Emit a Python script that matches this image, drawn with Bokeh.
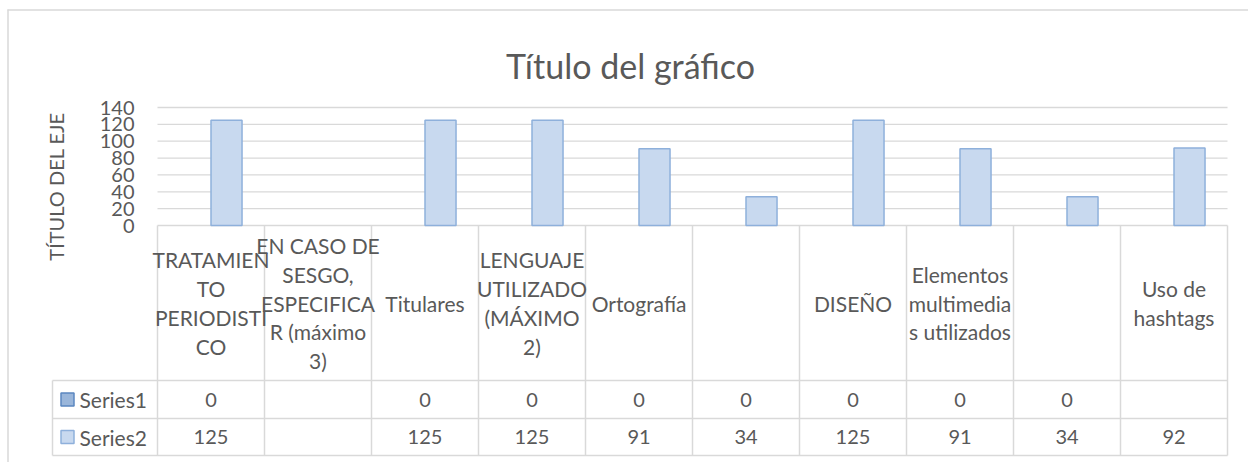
import math
from bokeh.plotting import figure
from bokeh.models import Range1d, FixedTicker, ColumnDataSource
from bokeh.embed import file_html
from bokeh.resources import INLINE
from bokeh.core.properties import value

nan = float("nan")

# ---------------- data ----------------
categories = [
    "TRATAMIEN\nTO\nPERIODISTI\nCO",
    "EN CASO DE\nSESGO,\nESPECIFICA\nR (máximo\n3)",
    "Titulares",
    "LENGUAJE\nUTILIZADO\n(MÁXIMO\n2)",
    "Ortografía",
    "",
    "DISEÑO",
    "Elementos\nmultimedia\ns utilizados",
    "",
    "Uso de\nhashtags",
]
series_names = ["Series1", "Series2"]
series1 = [0, nan, 0, 0, 0, 0, 0, 0, 0, nan]
series2 = [125, nan, 125, 125, 91, 34, 125, 91, 34, 92]
y_ticks = [0, 20, 40, 60, 80, 100, 120, 140]
chart_title = "Título del gráfico"
axis_title = "TÍTULO DEL EJE"

# ---------------- style ----------------
TXT = "#595959"
LINE = "#d9d9d9"
FONT = "Lato"
S1_FILL, S1_LINE = "#9ab6da", "#5b87c0"
S2_FILL, S2_LINE = "#c8d9ef", "#8eb0db"

N = len(categories)
COL_PX = 107.0               # width of one category column in px
PPU = 118.0 / 140.0          # pixels per value unit
PX0, PY0 = 157.0, 225.0      # screen position of (category 0, value 0)


def xd(px):  # screen x -> data x
    return (px - PX0) / COL_PX


def yd(py):  # screen y -> data y
    return (PY0 - py) / PPU


PAGE_L, PAGE_T, W, H = 0, 0, 1248, 462

p = figure(width=W, height=H,
           x_range=Range1d(xd(PAGE_L), xd(PAGE_L + W)),
           y_range=Range1d(yd(PAGE_T + H), yd(PAGE_T)),
           output_backend="svg", toolbar_location=None, x_axis_location=None,
           min_border_left=0, min_border_right=0, min_border_top=0, min_border_bottom=0)
p.outline_line_color = None
p.grid.visible = False

ax = p.yaxis[0]
ax.fixed_location = 0
ax.ticker = FixedTicker(ticks=y_ticks)
ax.axis_line_color = None
ax.major_tick_line_color = None
ax.minor_tick_line_color = None
ax.major_tick_out = 0
ax.major_tick_in = 0
ax.major_label_standoff = 23
ax.major_label_text_font = FONT
ax.major_label_text_font_size = "20px"
ax.major_label_text_color = TXT

# outer chart border (left and top)
p.segment(x0=[xd(7.5), xd(7)], x1=[xd(7.5), xd(PAGE_L + W)],
          y0=[yd(9), yd(9.5)], y1=[yd(PAGE_T + H), yd(9.5)],
          line_color=LINE, line_width=1.5)

# gridlines across the plot area
p.segment(x0=[0] * len(y_ticks), x1=[N] * len(y_ticks), y0=y_ticks, y1=y_ticks,
          line_color=LINE, line_width=1.3)

# bars
bw = 0.29
centers = [i + 0.5 for i in range(N)]
src = ColumnDataSource(dict(
    x1=[c - bw / 2 for c in centers], x2=[c + bw / 2 for c in centers],
    s1=series1, s2=series2))
p.vbar(x="x1", top="s1", bottom=0, width=bw, source=src,
       fill_color=S1_FILL, line_color=None)
p.vbar(x="x2", top="s2", bottom=0, width=bw, source=src,
       fill_color=S2_FILL, line_color=S2_LINE, line_width=1.5)

# title and axis title
p.text(x=[xd(630)], y=[yd(65)], text=[chart_title], text_align="center",
       text_baseline="alphabetic", text_font=value(FONT), text_font_size=value("34px"),
       text_color=TXT)
p.text(x=[xd(55.5)], y=[yd(186)], text=[axis_title], angle=math.pi / 2,
       text_align="center", text_baseline="middle", text_font=value(FONT),
       text_font_size=value("20px"), text_color=TXT)

# ---------------- data table ----------------
LEG_L = 52.0
row_head, row_s1, row_s2 = 380.0, 418.0, 455.0
hy = [yd(row_head), yd(row_s1), yd(row_s2)]
p.segment(x0=[xd(LEG_L)] * 3, x1=[N] * 3, y0=hy, y1=hy, line_color=LINE, line_width=1.5)
p.segment(x0=list(range(N + 1)), x1=list(range(N + 1)), y0=[0] * (N + 1),
          y1=[yd(row_s2)] * (N + 1), line_color=LINE, line_width=1.5)
p.segment(x0=[xd(LEG_L)], x1=[xd(LEG_L)], y0=[yd(row_head)], y1=[yd(row_s2)],
          line_color=LINE, line_width=1.5)

p.text(x=centers, y=[yd((PY0 + row_head) / 2)] * N, text=categories, text_align="center",
       text_baseline="middle", text_font=value(FONT), text_font_size=value("21px"),
       text_line_height=1.15, text_color=TXT)


def fmt(v):
    return "" if v != v else str(int(v))


yc1 = yd((row_head + row_s1) / 2)
yc2 = yd((row_s1 + row_s2) / 2)
p.text(x=centers, y=[yc1] * N, text=[fmt(v) for v in series1], text_align="center",
       text_baseline="middle", text_font=value(FONT), text_font_size=value("20px"),
       text_color=TXT)
p.text(x=centers, y=[yc2] * N, text=[fmt(v) for v in series2], text_align="center",
       text_baseline="middle", text_font=value(FONT), text_font_size=value("20px"),
       text_color=TXT)

# legend keys in the table
p.rect(x=[xd(67)] * 2, y=[yc1, yc2], width=13, height=13, width_units="screen",
       height_units="screen", fill_color=[S1_FILL, S2_FILL], line_color=[S1_LINE, S2_LINE],
       line_width=1.5)
p.text(x=[xd(79)] * 2, y=[yc1, yc2], text=series_names, text_align="left",
       text_baseline="middle", text_font=value(FONT), text_font_size=value("21px"),
       text_color=TXT)

open("out.html", "w").write(file_html(p, INLINE))
